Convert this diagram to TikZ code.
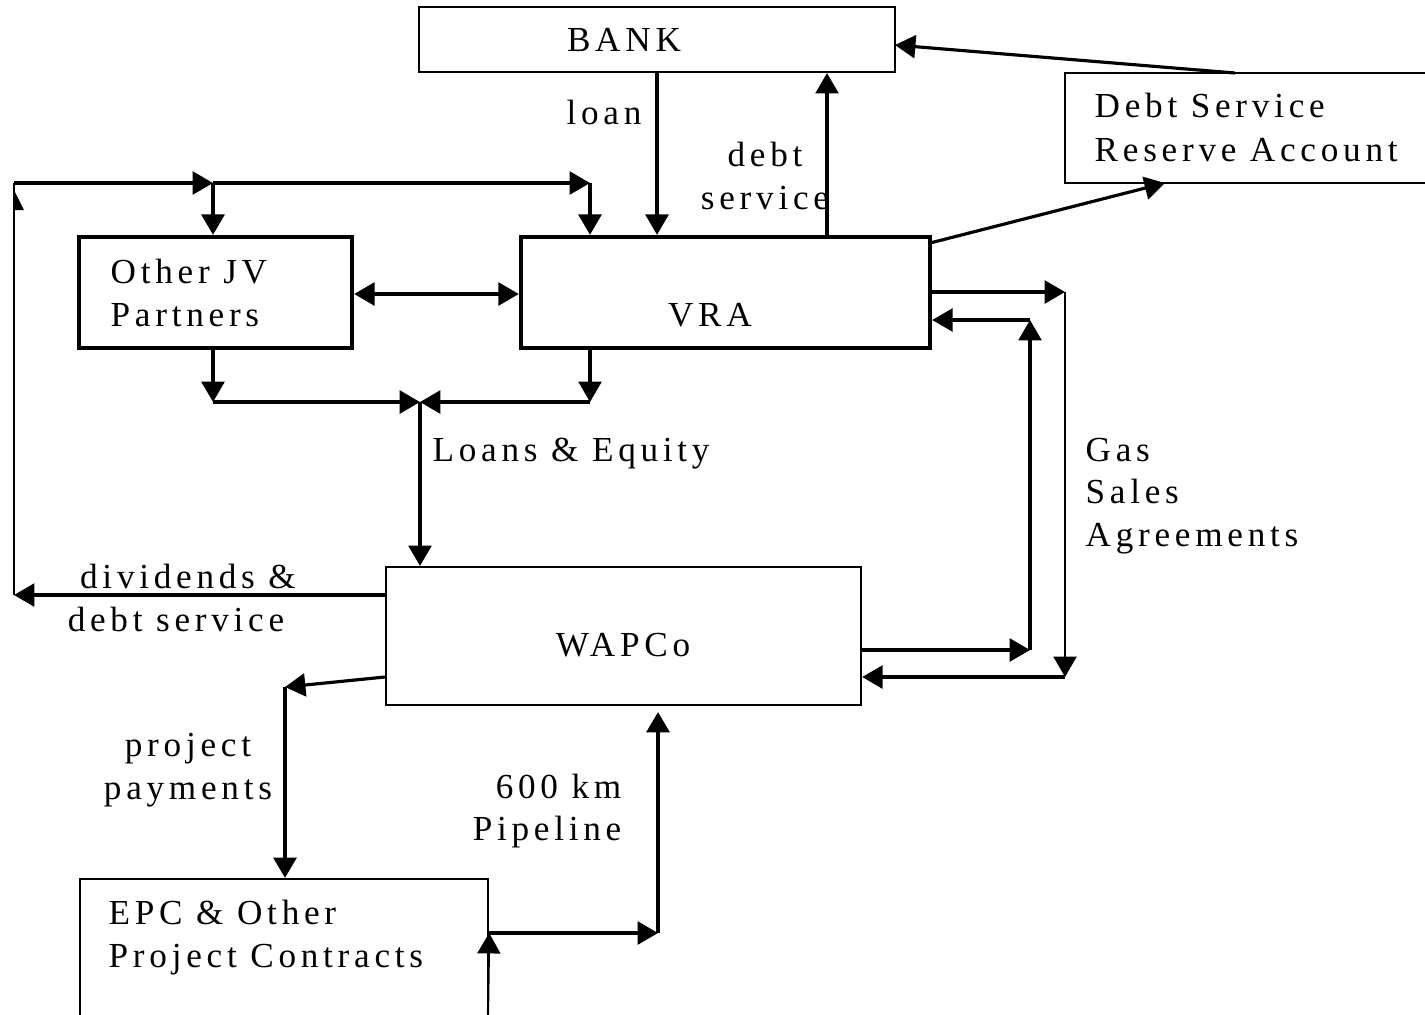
\documentclass[tikz,border=0pt]{standalone}
\usepackage{fontspec}
\setmainfont{Liberation Serif}[LetterSpace=13.5]
\usetikzlibrary{arrows.meta}
\tikzset{
  arr/.style={line width=0.9pt, -{Triangle[length=5.8pt,width=6.5pt]}},
  darr/.style={line width=0.9pt, {Triangle[length=5.8pt,width=6.5pt]}-{Triangle[length=5.8pt,width=6.5pt]}},
  thinline/.style={line width=0.6pt},
  thinbox/.style={draw, line width=0.6pt, inner sep=0pt},
  thickbox/.style={draw, line width=1.2pt, inner sep=0pt},
  lbl/.style={inner sep=0pt, font=\fontsize{10}{12}\selectfont},
}
\begin{document}
\begin{tikzpicture}[x=0.01cm, y=-0.01cm]
\useasboundingbox (0,0) rectangle (1425,1014);
\clip (0,0) rectangle (1425,1014);
\fill[white] (0,0) rectangle (1425,1014);

% boxes
\node[thinbox, minimum width=4.76cm, minimum height=0.65cm] (bank) at (657,39.5) {};
\node[thinbox, minimum width=4.15cm, minimum height=1.10cm] (dsra) at (1272.5,128) {};
\node[thickbox, minimum width=2.73cm, minimum height=1.11cm] (jv) at (215.5,292.5) {};
\node[thickbox, minimum width=4.09cm, minimum height=1.11cm] (vra) at (725.5,292.5) {};
\node[thinbox, minimum width=4.75cm, minimum height=1.38cm] (wapco) at (623.5,636) {};
\node[thinbox, minimum width=4.08cm, minimum height=1.81cm] (epc) at (284,969.5) {};

% texts
\node[lbl, anchor=base] (tbank) at (624,51) {BANK};
\node[lbl, anchor=base west] (tdsra1) at (1094,117) {Debt Service};
\node[lbl, anchor=base west] (tdsra2) at (1094,161) {Reserve Account};
\node[lbl, anchor=base west] (tjv1) at (110,283) {Other JV};
\node[lbl, anchor=base west] (tjv2) at (110,326) {Partners};
\node[lbl, anchor=base] (tvra) at (710,326) {VRA};
\node[lbl, anchor=base] (twapco) at (623,656) {WAPCo};
\node[lbl, anchor=base west] (tepc1) at (108,924) {EPC \& Other};
\node[lbl, anchor=base west] (tepc2) at (108,967) {Project Contracts};

\node[lbl, anchor=base] (tloan) at (604,124) {loan};
\node[lbl, anchor=base] (tds1) at (765,166) {debt};
\node[lbl, anchor=base] (tds2) at (765,209) {service};
\node[lbl, anchor=base west] (tle) at (432,461) {Loans \& Equity};
\node[lbl, anchor=base west] (tgas1) at (1085,461) {Gas};
\node[lbl, anchor=base west] (tgas2) at (1085,503) {Sales};
\node[lbl, anchor=base west] (tgas3) at (1085,546) {Agreements};
\node[lbl, anchor=base] (tdiv1) at (188,588) {dividends \&};
\node[lbl, anchor=base] (tdiv2) at (176,631) {debt service};
\node[lbl, anchor=base] (tpp1) at (188,756) {project};
\node[lbl, anchor=base] (tpp2) at (188,799) {payments};
\node[lbl, anchor=base east] (tpl1) at (622,798) {600 km};
\node[lbl, anchor=base east] (tpl2) at (622,840) {Pipeline};

% junction coordinates
\coordinate (tl) at (14,183);
\coordinate (t1) at (213,183);
\coordinate (t2) at (590,183);
\coordinate (bl) at (14,595);
\coordinate (b1) at (213,402);
\coordinate (b2) at (590,402);
\coordinate (m) at (420,402);
\coordinate (g1) at (1065,292);
\coordinate (g2) at (1065,677);
\coordinate (h1) at (1030,650);
\coordinate (h2) at (1030,320);
\coordinate (p1) at (285,687);
\coordinate (q1) at (658,933);
\coordinate (qtip) at (658,712);
\coordinate (ebot) at (488,1014);
\coordinate (dtop) at (1235,73);
\coordinate (dbot) at (1165,183);
\coordinate (vcorner) at (930,243);
\coordinate (bright) at (895,45);

% bank connectors
\draw[arr] (657,0 |- bank.south) -- (657,0 |- vra.north);
\draw[arr] (827,0 |- vra.north) -- (827,0 |- bank.south);
\draw[arr] (dtop) -- (bright);
\draw[arr] (vcorner) -- (dbot);

% top distribution
\draw[arr] (tl) -- (t1);
\draw[arr] (t1) -- (t2);
\draw[arr] (t1) -- (t1 |- jv.north);
\draw[arr] (t2) -- (t2 |- vra.north);
\draw[thinline] (bl) -- (tl);
\fill (14,190) -- (24,210) -- (14,210) -- cycle;
\draw[arr] (wapco.west |- bl) -- (bl);

% JV <-> VRA
\draw[darr] (jv.east |- 0,294) -- (vra.west |- 0,294);

% loans & equity
\draw[arr] (b1 |- jv.south) -- (b1);
\draw[arr] (b2 |- vra.south) -- (b2);
\draw[arr] (b1) -- (m);
\draw[arr] (b2) -- (m);
\draw[arr] (m) -- (m |- wapco.north);

% gas sales
\draw[arr] (vra.east |- g1) -- (g1);
\draw[arr, line width=0.7pt] (g1) -- (g2);
\draw[arr] (g2) -- (wapco.east |- g2);
\draw[arr] (wapco.east |- h1) -- (h1);
\draw[arr] (h1) -- (h2);
\draw[arr] (h2) -- (vra.east |- h2);

% project payments
\draw[arr] (wapco.west |- 0,677) -- (p1);
\draw[arr, line width=1.1pt] (p1) -- (p1 |- epc.north);

% pipeline
\draw[arr] (epc.east |- q1) -- (q1);
\draw[arr, line width=1.1pt] (q1) -- (qtip);
\draw[arr, thinline] (ebot) -- (epc.east |- q1);
\end{tikzpicture}
\end{document}
